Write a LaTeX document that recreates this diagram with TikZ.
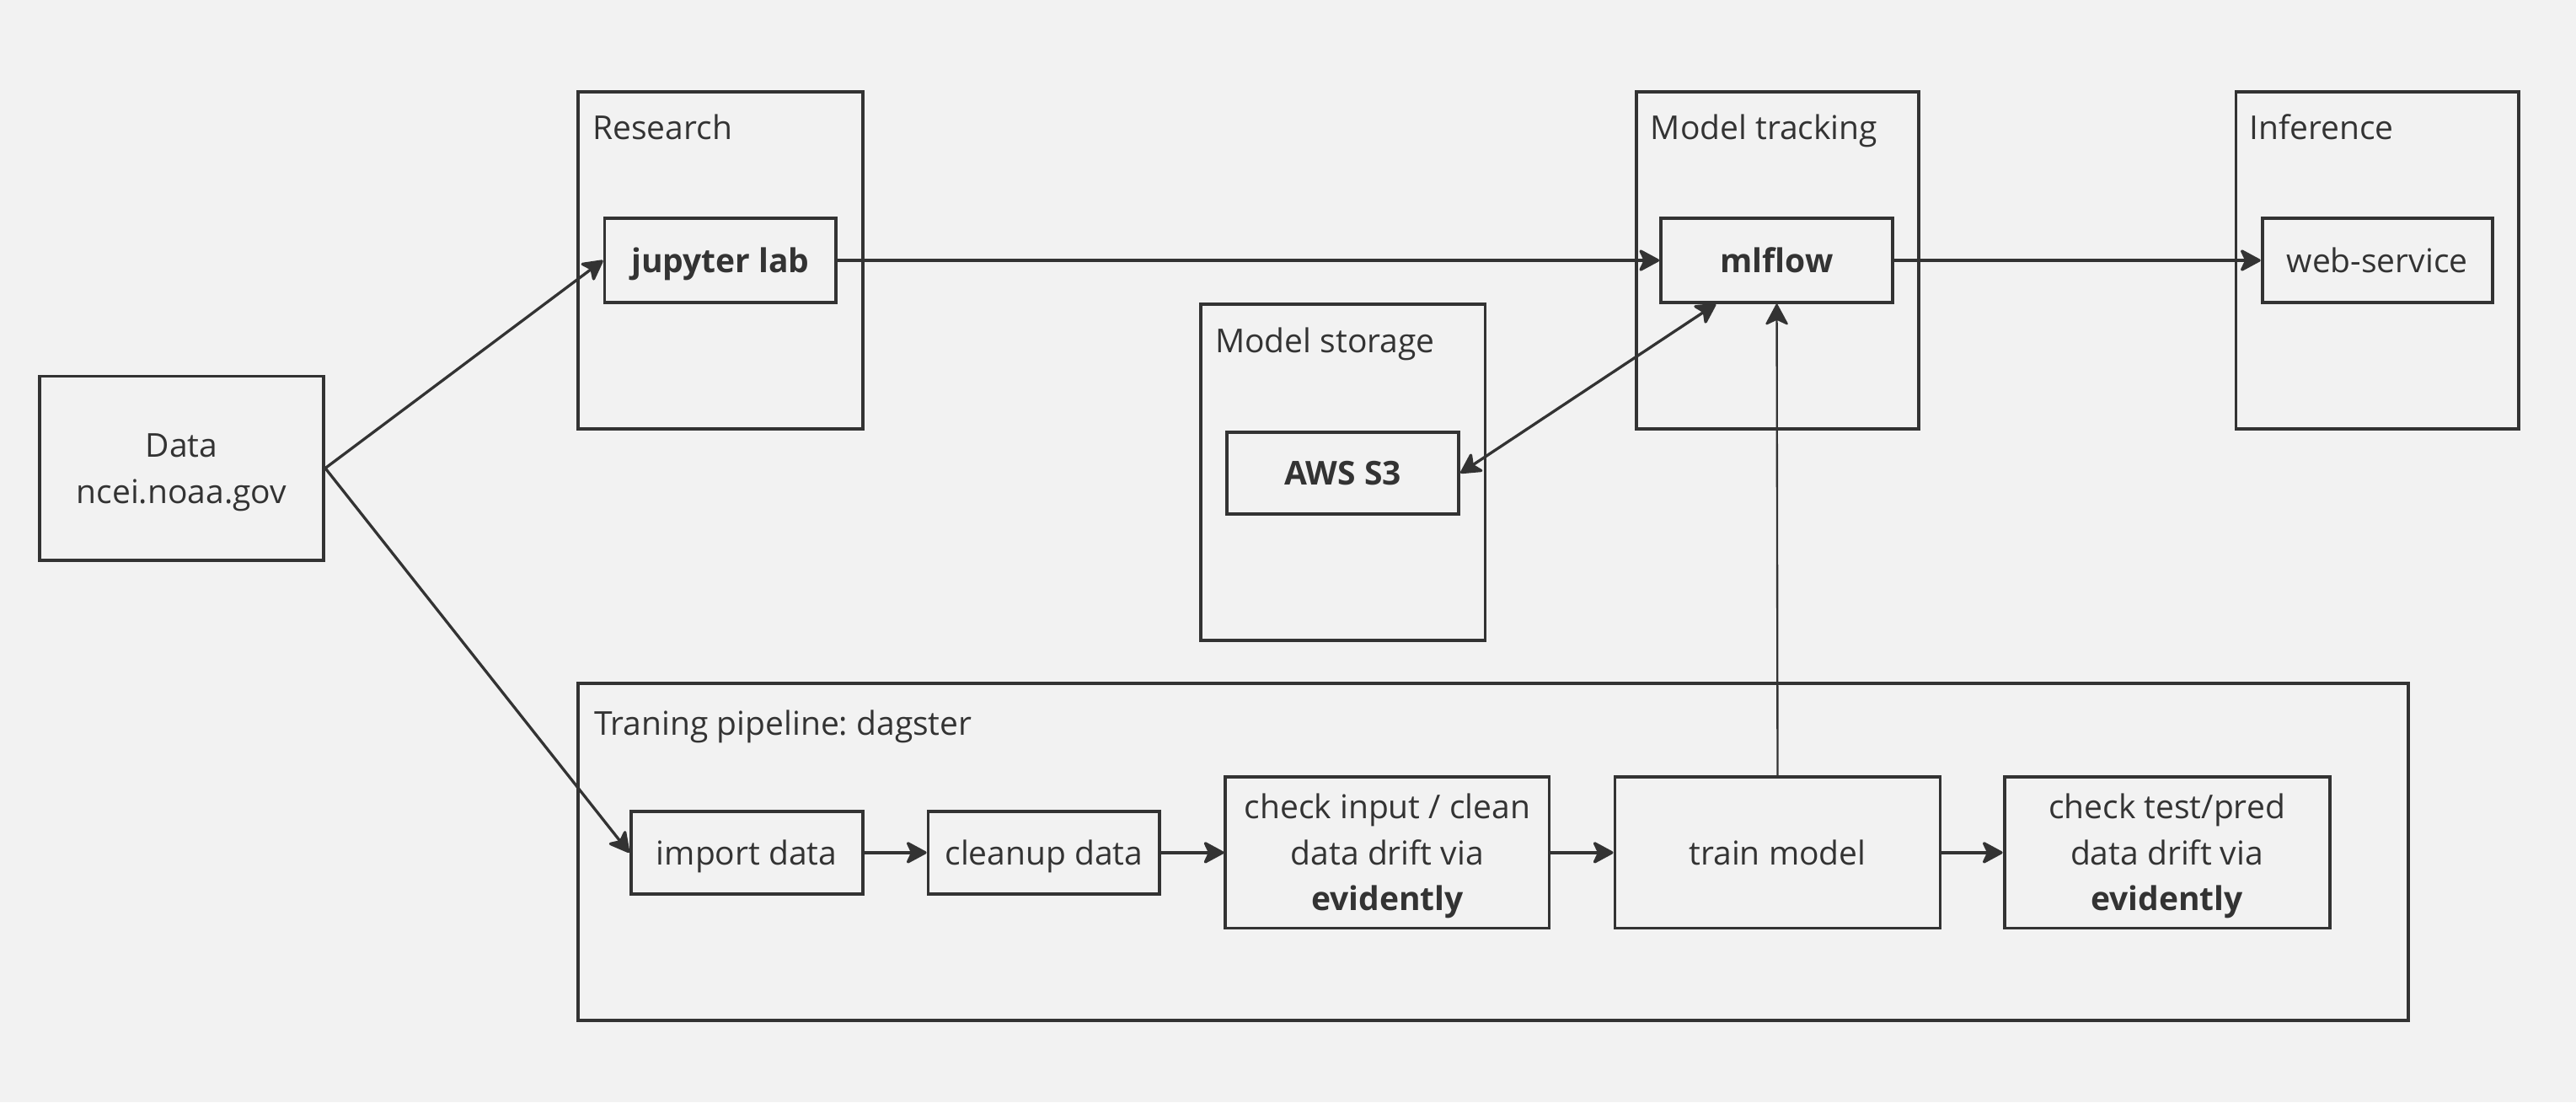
\documentclass[tikz,border=0pt]{standalone}
\usepackage{fontspec}
\setmainfont{Open Sans}
\usetikzlibrary{arrows.meta,calc}
\definecolor{bgc}{HTML}{F2F2F2}
\definecolor{ink}{HTML}{333333}
\frenchspacing
\newcommand{\bxtxt}[1]{\raisebox{-1.8pt}[\height][\depth]{\begin{tabular}{@{}c@{}}#1\end{tabular}}}
\tikzset{
  base/.style={draw=ink, line width=2pt, fill=bgc, text=ink, inner sep=0pt,
    font=\fontsize{20}{28}\selectfont},
  group/.style={base},
  boxn/.style={base},
  ttl/.style={anchor=base west, text=ink, inner sep=0pt, font=\fontsize{20}{28}\selectfont},
  tip/.tip={Stealth[length=14pt,width=15pt,inset=3.5pt,round]},
  conn/.style={draw=ink, line width=1.7pt, -tip},
  thinconn/.style={draw=ink, line width=1.2pt, -tip},
}
\begin{document}
\begin{tikzpicture}[x=1pt,y=-1pt]
\useasboundingbox[fill=bgc] (0,0) rectangle (1568,671);
% groups
\node[group, minimum width=173pt, minimum height=205pt] (research) at (438.5,158.5) {};
\node[ttl] (researcht) at (360.5,85) {Research};
\node[group, minimum width=173pt, minimum height=205pt] (storage) at (817.5,287.5) {};
\node[ttl] (storaget) at (739.5,214.5) {Model storage};
\node[group, minimum width=172pt, minimum height=205pt] (tracking) at (1082,158.5) {};
\node[ttl] (trackingt) at (1004.5,85) {Model tracking};
\node[group, minimum width=172pt, minimum height=205pt] (inference) at (1447,158.5) {};
\node[ttl] (inferencet) at (1369,85) {Inference};
\node[group, minimum width=1114pt, minimum height=205pt] (training) at (909,518.5) {};
\node[ttl] (trainingt) at (361.5,447.5) {Traning pipeline: dagster};
% boxes
\node[boxn, minimum width=173pt, minimum height=112pt] (data) at (110.5,285) {\bxtxt{Data\\ncei.noaa.gov}};
\node[boxn, minimum width=141pt, minimum height=51pt] (jupyter) at (438.5,158.5) {\bxtxt{\textbf{jupyter lab}}};
\node[boxn, minimum width=141pt, minimum height=50pt] (aws) at (817.5,288) {\bxtxt{\textbf{AWS S3}}};
\node[boxn, minimum width=141pt, minimum height=51pt] (mlflow) at (1081.5,158.5) {\bxtxt{\textbf{mlflow}}};
\node[boxn, minimum width=140pt, minimum height=51pt] (web) at (1447,158.5) {\bxtxt{web-service}};
\node[boxn, minimum width=141pt, minimum height=50pt] (import) at (454.5,519) {\bxtxt{import data}};
\node[boxn, minimum width=141pt, minimum height=50pt] (cleanup) at (635.5,519) {\bxtxt{cleanup data}};
\node[boxn, minimum width=197pt, minimum height=92pt] (checkin) at (844.5,519) {\bxtxt{check input / clean\\data drift via\\\textbf{evidently}}};
\node[boxn, minimum width=198pt, minimum height=92pt] (train) at (1082,519) {\bxtxt{train model}};
\node[boxn, minimum width=198pt, minimum height=92pt] (checktest) at (1319,519) {\bxtxt{check test/pred\\data drift via\\\textbf{evidently}}};
% connectors
\draw[conn] (data.east) -- (jupyter.west);
\draw[conn] (data.east) -- (import.west);
\draw[conn] (jupyter.east) -- (mlflow.west);
\draw[conn] (mlflow.east) -- (web.west);
\draw[conn, tip-tip] (aws.east) -- ([xshift=-37pt]mlflow.south);
\draw[thinconn] (train.north) -- (mlflow.south);
\draw[conn] (import.east) -- (cleanup.west);
\draw[conn] (cleanup.east) -- (checkin.west);
\draw[conn] (checkin.east) -- (train.west);
\draw[conn] (train.east) -- (checktest.west);
\end{tikzpicture}
\end{document}
